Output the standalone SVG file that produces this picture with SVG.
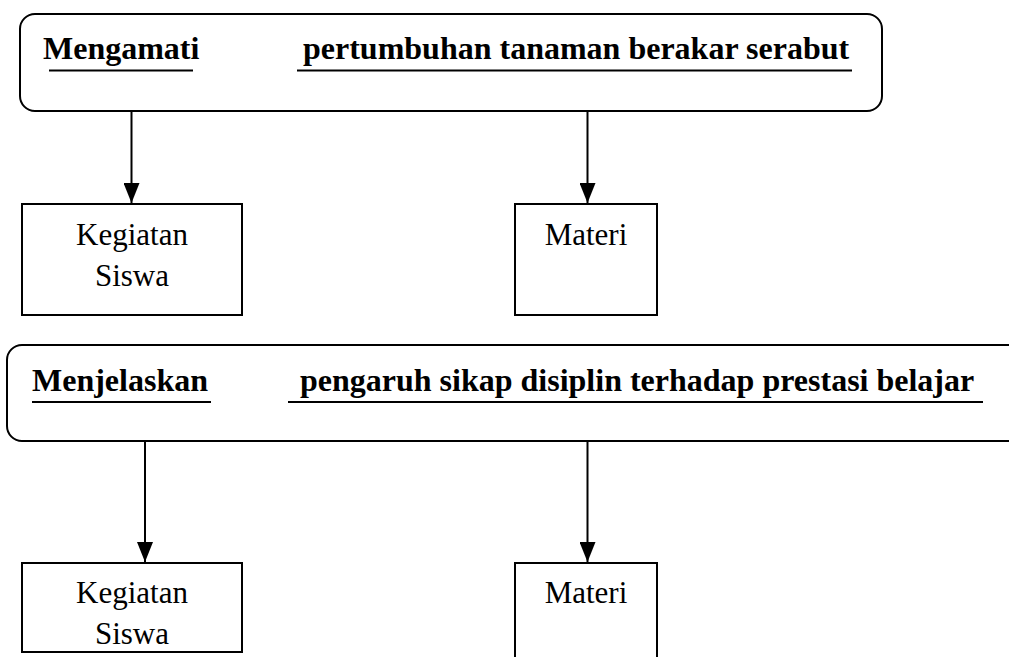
<svg xmlns="http://www.w3.org/2000/svg" width="1009" height="657" viewBox="0 0 1009 657">
<defs>
<marker id="ah" markerWidth="20" markerHeight="16" refX="20" refY="8" orient="auto" markerUnits="userSpaceOnUse" viewBox="0 0 20 16">
<path d="M0,0 L20,8 L0,16 Z" fill="#000"/>
</marker>
</defs>
<style>
.frame{fill:#fff;stroke:#000;stroke-width:2}
.box{fill:#fff;stroke:#000;stroke-width:2}
.hd{font-family:"Liberation Serif",serif;font-weight:bold;font-size:32px;fill:#000}
.tx{font-family:"Liberation Serif",serif;font-size:31px;fill:#000}
.ul{stroke:#000;stroke-width:2}
.conn{stroke:#000;stroke-width:2;fill:none}
</style>
<rect width="1009" height="657" fill="#fff"/>
<g id="goal1">
<rect class="frame" x="20" y="14" width="862" height="97" rx="15"/>
<text class="hd" x="43" y="59">Mengamati</text>
<line class="ul" x1="49" y1="70.5" x2="193" y2="70.5"/>
<text class="hd" x="303" y="59">pertumbuhan tanaman berakar serabut</text>
<line class="ul" x1="297" y1="70.5" x2="852" y2="70.5"/>
</g>
<g id="kegiatan1">
<rect class="box" x="22" y="204" width="220" height="111"/>
<text class="tx" x="132" y="245" text-anchor="middle">Kegiatan</text>
<text class="tx" x="132" y="286" text-anchor="middle">Siswa</text>
</g>
<g id="materi1">
<rect class="box" x="515" y="204" width="142" height="111"/>
<text class="tx" x="586" y="245" text-anchor="middle">Materi</text>
</g>
<g id="goal2">
<rect class="frame" x="7" y="345" width="1030" height="96" rx="15"/>
<text class="hd" x="32" y="391">Menjelaskan</text>
<line class="ul" x1="32" y1="402" x2="211" y2="402"/>
<text class="hd" x="300" y="391">pengaruh sikap disiplin terhadap prestasi belajar</text>
<line class="ul" x1="288" y1="402" x2="983" y2="402"/>
</g>
<g id="kegiatan2">
<rect class="box" x="22" y="563" width="220" height="89"/>
<text class="tx" x="132" y="603" text-anchor="middle">Kegiatan</text>
<text class="tx" x="132" y="644" text-anchor="middle">Siswa</text>
</g>
<g id="materi2">
<rect class="box" x="515" y="563" width="142" height="120"/>
<text class="tx" x="586" y="603" text-anchor="middle">Materi</text>
</g>
<g id="connectors">
<line class="conn" x1="131.5" y1="112" x2="131.5" y2="203" marker-end="url(#ah)"/>
<line class="conn" x1="587.5" y1="112" x2="587.5" y2="203" marker-end="url(#ah)"/>
<line class="conn" x1="145" y1="442" x2="145" y2="562" marker-end="url(#ah)"/>
<line class="conn" x1="587.5" y1="442" x2="587.5" y2="562" marker-end="url(#ah)"/>
</g>
</svg>
